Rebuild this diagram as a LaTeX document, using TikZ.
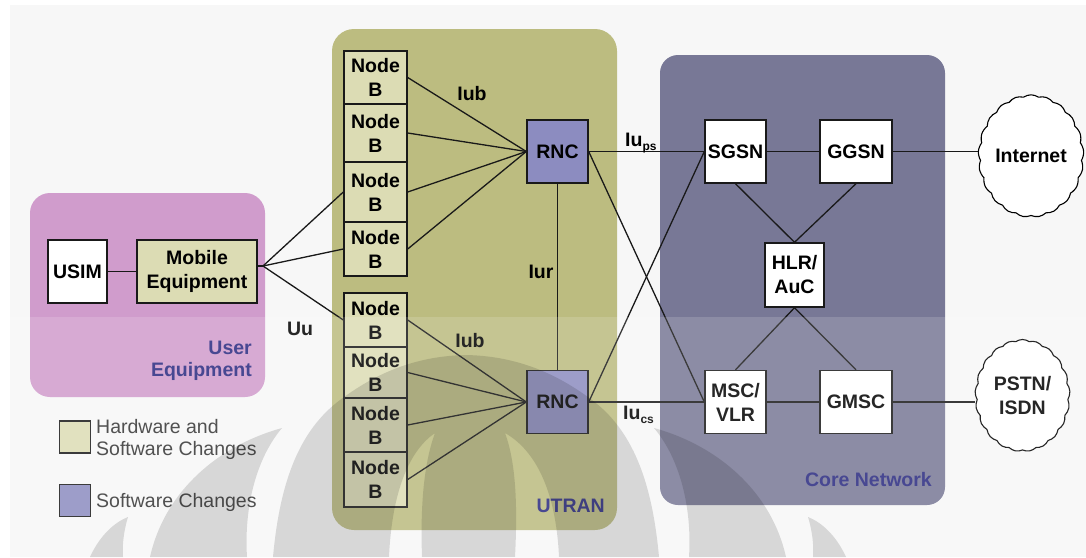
\documentclass[tikz,border=0pt]{standalone}
\usepackage{fontspec}
\setmainfont{Liberation Sans}
\usetikzlibrary{shapes.symbols}

\definecolor{pagebg}{HTML}{F7F7F7}
\definecolor{uebg}{HTML}{D09CCC}
\definecolor{utranbg}{HTML}{BCBC80}
\definecolor{corebg}{HTML}{787896}
\definecolor{hwsw}{HTML}{DCDCB4}
\definecolor{swonly}{HTML}{8C8CC0}
\definecolor{areatext}{HTML}{28287F}
\definecolor{legendtext}{HTML}{333333}

\tikzset{
  unit/.style={draw=black!90, line width=1.4pt, inner sep=0pt, align=center,
    font=\bfseries\fontsize{19.5}{24}\selectfont},
  nodeb/.style={unit, fill=hwsw, minimum width=63pt},
  ctrl/.style={unit, fill=swonly, minimum width=61pt, minimum height=63pt},
  corebox/.style={unit, fill=white, minimum height=63pt},
  link/.style={draw=black!90, line width=1.3pt},
  iflabel/.style={inner sep=0pt, font=\bfseries\fontsize{19.5}{24}\selectfont},
  areaname/.style={inner sep=0pt, align=right, text=areatext,
    font=\bfseries\fontsize{19.5}{22}\selectfont},
  legendbox/.style={draw=black!90, line width=1.3pt, minimum width=31pt, minimum height=32pt, inner sep=0pt},
  legendlabel/.style={inner sep=0pt, align=left, text=legendtext,
    font=\fontsize{19.5}{22}\selectfont},
  net/.style={cloud, cloud puffs=21, cloud puff arc=70, aspect=0.85, draw=black, line width=1.1pt,
    fill=white, inner sep=0pt, align=center, font=\bfseries\fontsize{19.5}{24}\selectfont},
  emblem/.style={black, opacity=0.13}
}
\newcommand{\sub}[1]{\raisebox{-4pt}{\fontsize{12}{12}\selectfont #1}}

\begin{document}
\begin{tikzpicture}[x=1pt,y=-1pt]
\useasboundingbox (0,0) rectangle (1086,557);
\fill[white] (0,0) rectangle (1086,557);
\fill[pagebg] (10,5) rectangle (1086,557);

% areas
\fill[uebg, rounded corners=20pt] (30,193) rectangle (265,397);
\fill[utranbg, rounded corners=22pt] (332,29) rectangle (617,530);
\fill[corebg, rounded corners=18pt] (660,55) rectangle (945,505);

% user equipment
\node[unit, fill=white, minimum width=59pt, minimum height=63pt] (usim) at (77.5,271.5) {USIM};
\node[unit, fill=hwsw, minimum width=120pt, minimum height=63pt] (me) at (197,271.5) {Mobile\\Equipment};

% Node Bs
\node[nodeb, minimum height=53pt] (nb1) at (375.5,77.5) {Node\\B};
\node[nodeb, minimum height=58pt] (nb2) at (375.5,133) {Node\\B};
\node[nodeb, minimum height=60pt] (nb3) at (375.5,192) {Node\\B};
\node[nodeb, minimum height=54pt] (nb4) at (375.5,249) {Node\\B};
\node[nodeb, minimum height=54pt] (nb5) at (375.5,320) {Node\\B};
\node[nodeb, minimum height=51pt] (nb6) at (375.5,372.5) {Node\\B};
\node[nodeb, minimum height=54pt] (nb7) at (375.5,425) {Node\\B};
\node[nodeb, minimum height=55pt] (nb8) at (375.5,479.5) {Node\\B};

% radio network controllers
\node[ctrl] (rnc1) at (557.5,151.5) {RNC};
\node[ctrl] (rnc2) at (557.5,402) {RNC};

% core network elements
\node[corebox, minimum width=61pt] (sgsn) at (735.5,151.5) {SGSN};
\node[corebox, minimum width=72pt] (ggsn) at (856,151.5) {GGSN};
\node[corebox, minimum width=59pt, minimum height=64pt] (hlr) at (794.5,275) {HLR/\\AuC};
\node[corebox, minimum width=61pt] (msc) at (735.5,402) {MSC/\\VLR};
\node[corebox, minimum width=72pt] (gmsc) at (856,402) {GMSC};

% external networks
\node[net, minimum width=94pt, minimum height=110pt] (inet) at (1031,156) {Internet};
\node[net, minimum width=95pt, minimum height=112pt] (pstn) at (1022.5,395.5) {PSTN/\\ISDN};

% air interface
\coordinate (hub) at (263,266);
\draw[link] (usim) -- (me);
\draw[link] (me.east |- hub) -- (hub);
\draw[link] (hub) -- (nb3.west);
\draw[link] (hub) -- (nb4.west);
\draw[link] (hub) -- (nb5.west);

% Iub
\foreach \n in {nb1,nb2,nb3,nb4} \draw[link] (\n.east) -- (rnc1.west);
\foreach \n in {nb5,nb6,nb7,nb8} \draw[link] (\n.east) -- (rnc2.west);

% Iur and Iu
\draw[link] (rnc1) -- (rnc2);
\draw[link] (rnc1) -- (sgsn);
\draw[link] (rnc1.east) -- (msc.west);
\draw[link] (rnc2.east) -- (sgsn.west);
\draw[link] (rnc2) -- (msc);

% core links
\draw[link] (sgsn) -- (ggsn);
\draw[link] (ggsn.east) -- (ggsn.east -| inet.west);
\draw[link] (sgsn.south) -- (hlr.north);
\draw[link] (ggsn.south) -- (hlr.north);
\draw[link] (hlr.south) -- (msc.north);
\draw[link] (hlr.south) -- (gmsc.north);
\draw[link] (msc) -- (gmsc);
\draw[link] (gmsc.east) -- (gmsc.east -| pstn.west);

% interface labels
\node[iflabel] (lbub1) at (472,94) {Iub};
\node[iflabel] (lbub2) at (470,341) {Iub};
\node[iflabel] (lbur) at (541,272) {Iur};
\node[iflabel] (luu) at (300,329) {Uu};
\node[iflabel, anchor=base west] (lups) at (625,146) {Iu\sub{ps}};
\node[iflabel, anchor=base west] (lucs) at (623,419) {Iu\sub{cs}};

% area names (base of a two-line name is its last line)
\node[areaname, anchor=base east] (tue) at (252,376) {User\\Equipment};
\node[areaname, anchor=base east] (tutran) at (605,512) {UTRAN};
\node[areaname, anchor=base east] (tcore) at (932,486) {Core Network};

% legend
\node[legendbox, fill=hwsw] (lg1) at (75,437) {};
\node[legendbox, fill=swonly] (lg2) at (75,500.5) {};
\node[legendlabel, anchor=base west] (lt1) at (96,455) {Hardware and\\Software Changes};
\node[legendlabel, anchor=base west] (lt2) at (96,507) {Software Changes};

% faded lower band and emblem
\fill[white, opacity=0.15] (0,317) rectangle (1086,557);
\begin{scope}
\clip (0,0) rectangle (1086,557);
\fill[emblem, even odd rule]
  (273,557) .. controls (280,480) and (300,430) .. (340,400)
            .. controls (380,370) and (420,356) .. (466,355)
            .. controls (512,356) and (552,370) .. (592,400)
            .. controls (632,430) and (652,480) .. (659,557) -- cycle
  (389,557) .. controls (392,490) and (410,450) .. (435,433)
            .. controls (425,460) and (420,500) .. (422,557) -- cycle
  (559,557) .. controls (556,490) and (535,450) .. (505,433)
            .. controls (515,460) and (518,500) .. (515,557) -- cycle;
\fill[emblem] (150,557) .. controls (165,490) and (220,445) .. (282,428)
            .. controls (255,460) and (244,510) .. (247,557) -- cycle;
\fill[emblem] (786,557) .. controls (771,490) and (716,445) .. (654,428)
            .. controls (681,460) and (692,510) .. (689,557) -- cycle;
\fill[emblem] (90,557) .. controls (100,535) and (115,522) .. (128,517)
            .. controls (124,530) and (122,545) .. (123,557) -- cycle;
\fill[emblem] (846,557) .. controls (836,535) and (821,522) .. (808,517)
            .. controls (812,530) and (814,545) .. (813,557) -- cycle;
\end{scope}
\end{tikzpicture}
\end{document}
